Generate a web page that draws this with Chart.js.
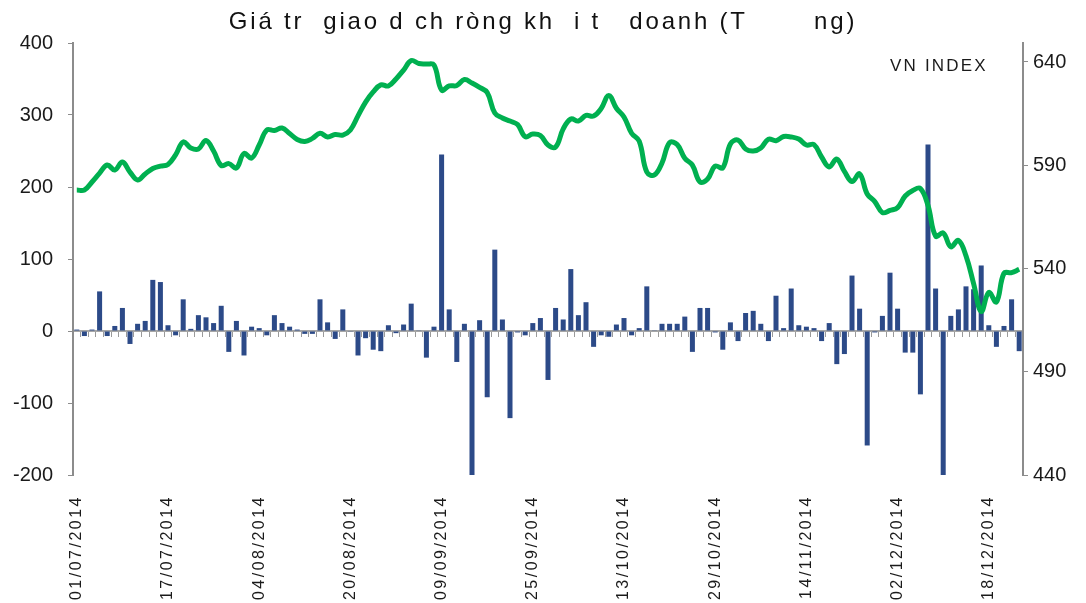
<!DOCTYPE html>
<html>
<head>
<meta charset="utf-8">
<script src="https://cdn.jsdelivr.net/npm/chart.js@4.4.1/dist/chart.umd.min.js"></script>
<style>
  html, body { margin: 0; padding: 0; background: #fff; }
  canvas { display: block; }
</style>
</head>
<body>
<canvas id="chart" width="1086" height="603"></canvas>
<script>
// trading days, 01/07/2014 - 24/12/2014 (1-2/9 closed)
const tradingDays = [
  '01/07/2014','02/07/2014','03/07/2014','04/07/2014','07/07/2014','08/07/2014','09/07/2014','10/07/2014','11/07/2014','14/07/2014',
  '15/07/2014','16/07/2014','17/07/2014','18/07/2014','21/07/2014','22/07/2014','23/07/2014','24/07/2014','25/07/2014','28/07/2014',
  '29/07/2014','30/07/2014','31/07/2014','01/08/2014','04/08/2014','05/08/2014','06/08/2014','07/08/2014','08/08/2014','11/08/2014',
  '12/08/2014','13/08/2014','14/08/2014','15/08/2014','18/08/2014','19/08/2014','20/08/2014','21/08/2014','22/08/2014','25/08/2014',
  '26/08/2014','27/08/2014','28/08/2014','29/08/2014','03/09/2014','04/09/2014','05/09/2014','08/09/2014','09/09/2014','10/09/2014',
  '11/09/2014','12/09/2014','15/09/2014','16/09/2014','17/09/2014','18/09/2014','19/09/2014','22/09/2014','23/09/2014','24/09/2014',
  '25/09/2014','26/09/2014','29/09/2014','30/09/2014','01/10/2014','02/10/2014','03/10/2014','06/10/2014','07/10/2014','08/10/2014',
  '09/10/2014','10/10/2014','13/10/2014','14/10/2014','15/10/2014','16/10/2014','17/10/2014','20/10/2014','21/10/2014','22/10/2014',
  '23/10/2014','24/10/2014','27/10/2014','28/10/2014','29/10/2014','30/10/2014','31/10/2014','03/11/2014','04/11/2014','05/11/2014',
  '06/11/2014','07/11/2014','10/11/2014','11/11/2014','12/11/2014','13/11/2014','14/11/2014','17/11/2014','18/11/2014','19/11/2014',
  '20/11/2014','21/11/2014','24/11/2014','25/11/2014','26/11/2014','27/11/2014','28/11/2014','01/12/2014','02/12/2014','03/12/2014',
  '04/12/2014','05/12/2014','08/12/2014','09/12/2014','10/12/2014','11/12/2014','12/12/2014','15/12/2014','16/12/2014','17/12/2014',
  '18/12/2014','19/12/2014','22/12/2014','23/12/2014','24/12/2014'
];

// net value, bn VND (bars, left axis)
const netValue = [
  2, -7, 2, 55, -7, 7, 32, -18, 10, 14,
  71, 68, 8, -6, 44, 3, 22, 19, 11, 35,
  -29, 14, -34, 6, 4, -6, 22, 11, 6, 2,
  -4, -4, 44, 12, -11, 30, -1, -34, -10, -26,
  -28, 8, -3, 9, 38, 1, -37, 6, 245, 30,
  -43, 10, -200, 15, -92, 113, 16, -121, -2, -6,
  11, 18, -68, 32, 16, 86, 22, 40, -22, -6,
  -8, 9, 18, -6, 4, 62, 1, 10, 10, 10,
  20, -29, 32, 32, -2, -26, 12, -14, 25, 28,
  10, -14, 49, 4, 59, 8, 6, 4, -14, 11,
  -46, -32, 77, 31, -159, -2, 21, 81, 31, -30,
  -30, -88, 259, 59, -200, 21, 30, 62, 58, 91,
  8, -22, 7, 44, -28
];

// VN-Index close (line, right axis)
const vnIndex = [
  578.0, 578.0, 581.9, 586.2, 590.1, 587.7, 591.6, 586.7, 582.9, 585.8,
  588.4, 589.6, 590.4, 595.0, 601.3, 598.4, 597.9, 602.0, 596.9, 589.9,
  590.8, 588.7, 595.7, 593.5, 599.8, 607.1, 606.8, 608.0, 605.4, 602.5,
  601.5, 603.0, 605.5, 603.7, 604.9, 604.6, 607.1, 613.9, 620.6, 625.5,
  628.9, 628.4, 631.8, 636.1, 640.7, 639.3, 639.0, 638.5, 626.4, 628.4,
  628.6, 631.5, 629.8, 627.7, 625.2, 615.3, 612.9, 611.4, 609.7, 603.8,
  605.1, 604.4, 599.8, 598.8, 607.6, 612.4, 611.4, 614.1, 613.8, 617.5,
  623.8, 617.6, 613.4, 605.5, 601.7, 586.7, 585.3, 591.1, 601.0, 600.0,
  593.4, 590.1, 581.9, 583.3, 589.6, 588.7, 600.3, 602.2, 597.9, 596.9,
  598.4, 602.6, 601.9, 603.9, 603.7, 602.7, 599.8, 600.0, 594.0, 589.2,
  593.0, 587.0, 582.1, 585.8, 576.1, 572.4, 567.1, 568.1, 569.5, 575.1,
  577.8, 578.7, 570.5, 555.7, 557.2, 550.5, 553.6, 546.1, 532.7, 519.2,
  528.4, 523.8, 537.7, 538.0, 539.6
];

const indexTicks = [440, 490, 540, 590, 640];
const titleText = 'Giá tr  giao d ch ròng kh  i t   doanh (T       ng)';
const lineName = 'VN INDEX';

const FONT = "'Liberation Sans', Arial, sans-serif";
const axisGrey = '#8c8c8c';

// wraps a draw method so its text comes out letter-spaced
function spaced(obj, method, gap) {
  if (!obj || obj['_sp_' + method]) return;
  const orig = obj[method];
  obj[method] = function (...args) {
    const c = this.ctx;
    c.save();
    c.letterSpacing = gap;
    orig.apply(this, args);
    c.restore();
  };
  obj['_sp_' + method] = true;
}

const extras = {
  id: 'extras',
  beforeDraw(chart) {
    spaced(chart.scales.x, 'drawLabels', '2.5px');
    spaced(chart.titleBlock, 'draw', '2.8px');
  },
  afterDraw(chart) {
    const c = chart.ctx;
    const a = chart.chartArea;
    c.save();
    c.font = '17px ' + FONT;
    c.letterSpacing = '2.2px';
    c.fillStyle = '#1a1a1a';
    c.textBaseline = 'middle';
    c.fillText(lineName, a.right - 133, 66);
    c.restore();
  }
};

new Chart(document.getElementById('chart'), {
  type: 'bar',
  data: {
    labels: tradingDays,
    datasets: [
      {
        type: 'line',
        label: lineName,
        data: vnIndex,
        yAxisID: 'y1',
        borderColor: '#00b050',
        borderWidth: 5,
        pointRadius: 0,
        tension: 0.4,
        fill: false,
        order: 0
      },
      {
        type: 'bar',
        label: 'Net',
        data: netValue,
        yAxisID: 'y',
        backgroundColor: '#2c4a88',
        categoryPercentage: 1,
        barPercentage: 0.66,
        order: 1
      }
    ]
  },
  options: {
    responsive: false,
    animation: false,
    devicePixelRatio: 1,
    layout: { padding: 0 },
    plugins: {
      legend: { display: false },
      tooltip: { enabled: false },
      title: {
        display: true,
        text: titleText,
        color: '#111',
        font: { family: FONT, size: 24, weight: 'normal' },
        padding: { top: 8, bottom: 6.2 }
      }
    },
    scales: {
      x: {
        type: 'category',
        offset: true,
        grid: { display: false, drawTicks: false, offset: true },
        border: { display: false },
        ticks: {
          autoSkip: false,
          minRotation: 90,
          maxRotation: 90,
          padding: 20,
          color: '#1a1a1a',
          font: { family: FONT, size: 16 },
          callback: (v, i) => (i % 12 === 0 ? tradingDays[i] : '')
        },
        afterFit: (s) => { s.height = 128; }
      },
      x2: {
        type: 'category',
        position: { y: 0 },
        offset: true,
        z: 1,
        grid: { offset: true, drawOnChartArea: false, drawTicks: true, tickLength: 5, color: '#9a9a9a', lineWidth: 1 },
        border: { display: true, color: '#a6a6a6', width: 2 },
        ticks: { display: false, autoSkip: false }
      },
      y: {
        position: 'left',
        min: -200,
        max: 400,
        ticks: {
          stepSize: 100,
          padding: 15,
          color: '#1a1a1a',
          font: { family: FONT, size: 20 }
        },
        grid: { drawOnChartArea: false, drawTicks: true, tickLength: 5, color: axisGrey },
        border: { display: true, color: axisGrey, width: 2 },
        afterFit: (s) => { s.width = 73; }
      },
      y1: {
        position: 'right',
        min: 440,
        max: 649.2,
        afterBuildTicks: (s) => { s.ticks = indexTicks.map(v => ({ value: v })); },
        ticks: {
          padding: 5,
          color: '#1a1a1a',
          font: { family: FONT, size: 20 }
        },
        grid: { drawOnChartArea: false, drawTicks: true, tickLength: 5, color: axisGrey },
        border: { display: true, color: axisGrey, width: 2 },
        afterFit: (s) => { s.width = 63; }
      }
    }
  },
  plugins: [extras]
});
</script>
</body>
</html>
